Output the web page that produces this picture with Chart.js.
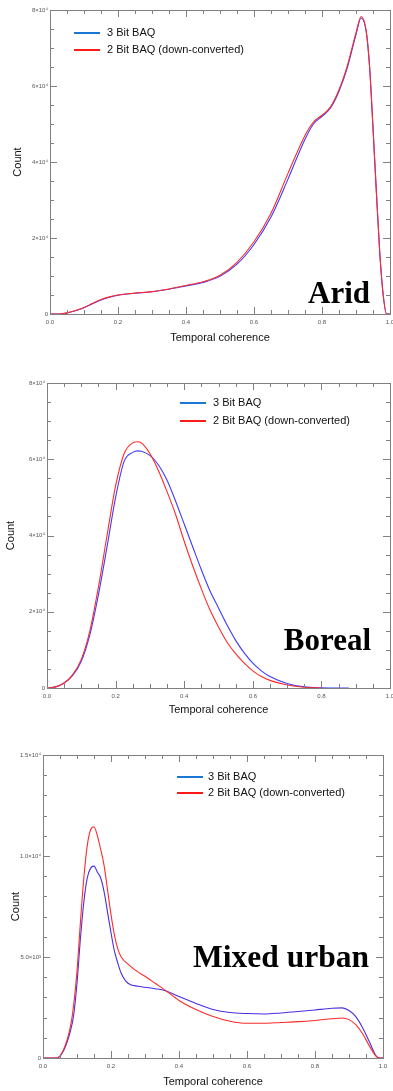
<!DOCTYPE html>
<html><head><meta charset="utf-8">
<script src="https://cdn.jsdelivr.net/npm/chart.js@4.4.1/dist/chart.umd.min.js"></script>
<style>
html,body{margin:0;padding:0;background:#fff;width:393px;height:1091px;overflow:hidden}
canvas{position:absolute;left:0}
</style></head><body>
<canvas id="c1" width="393" height="348" style="top:0;width:393px;height:348px"></canvas>
<canvas id="c2" width="393" height="350" style="top:370px;width:393px;height:350px"></canvas>
<canvas id="c3" width="393" height="351" style="top:740px;width:393px;height:351px"></canvas>
<script>
// ---------------- DATA ----------------
const seriesNames = ['3 Bit BAQ', '2 Bit BAQ (down-converted)'];
const xTitle = 'Temporal coherence';
const yTitle = 'Count';
const panelTags = ['Arid', 'Boreal', 'Mixed urban'];

const xTickVals = [0, 0.2, 0.4, 0.6, 0.8, 1.0];
const xTickLabels = ['0.0', '0.2', '0.4', '0.6', '0.8', '1.0'];

// Arid
const aridX    = [0, 0.03, 0.05, 0.075, 0.1, 0.125, 0.15, 0.175, 0.2, 0.25, 0.3, 0.35, 0.4, 0.45, 0.5, 0.55, 0.6, 0.65, 0.7, 0.75, 0.775, 0.8, 0.825, 0.85, 0.875, 0.9, 0.915, 0.93, 0.94, 0.95, 0.96, 0.97, 0.98, 0.99, 1.0];
const aridBlue = [0, 0, 250, 850, 1650, 2700, 3700, 4400, 4950, 5450, 5850, 6500, 7400, 8300, 9900, 13100, 18300, 25500, 35500, 46000, 50000, 52000, 54200, 58600, 65000, 73500, 77900, 74300, 65000, 49000, 32000, 16000, 5000, 0, 0];
const aridRed  = [0, 0, 300, 900, 1700, 2800, 3800, 4500, 5000, 5500, 5900, 6600, 7500, 8500, 10200, 13600, 19000, 26500, 37000, 47000, 50500, 52300, 54500, 59000, 65500, 74000, 78300, 74500, 65000, 49000, 32000, 16000, 5000, 0, 0];
const aridYTickVals = [0, 20000, 40000, 60000, 80000];
const aridYTickLabels = ['0', '2\u00d710\u2074', '4\u00d710\u2074', '6\u00d710\u2074', '8\u00d710\u2074'];

// Boreal
const borealX    = [0, 0.025, 0.05, 0.075, 0.1, 0.125, 0.15, 0.175, 0.2, 0.225, 0.25, 0.265, 0.275, 0.3, 0.325, 0.35, 0.375, 0.4, 0.425, 0.45, 0.475, 0.5, 0.525, 0.55, 0.575, 0.6, 0.625, 0.65, 0.7, 0.75, 0.8, 0.85, 0.88];
const borealBlue = [0, 300, 1300, 3300, 7000, 14000, 24500, 37000, 50000, 59500, 61800, 62200, 62100, 61000, 58500, 54500, 49000, 43000, 37000, 31000, 25500, 21000, 16500, 12500, 9200, 6500, 4500, 3000, 1200, 300, 50, 0, 0];
const borealRed  = [0, 300, 1300, 3500, 7500, 15000, 26500, 40000, 53000, 61500, 64300, 64600, 64300, 61500, 57000, 51500, 45500, 38500, 32000, 26000, 20500, 16000, 12000, 9000, 6500, 4500, 3000, 2000, 800, 200, 0, null, null];
const borealYTickVals = [0, 20000, 40000, 60000, 80000];
const borealYTickLabels = ['0', '2\u00d710\u2074', '4\u00d710\u2074', '6\u00d710\u2074', '8\u00d710\u2074'];

// Mixed urban
const urbanX    = [0, 0.04, 0.06, 0.08, 0.09, 0.1, 0.11, 0.12, 0.13, 0.14, 0.15, 0.16, 0.17, 0.18, 0.19, 0.2, 0.21, 0.22, 0.23, 0.25, 0.28, 0.3, 0.33, 0.36, 0.4, 0.45, 0.5, 0.55, 0.6, 0.65, 0.7, 0.75, 0.8, 0.85, 0.88, 0.9, 0.92, 0.94, 0.96, 0.98, 0.99, 1.0];
const urbanBlue = [0, 0, 350, 1300, 2100, 3700, 5900, 7700, 8900, 9400, 9500, 9200, 8900, 8200, 7200, 6200, 5300, 4700, 4200, 3700, 3550, 3500, 3430, 3330, 3050, 2700, 2400, 2250, 2200, 2180, 2230, 2300, 2380, 2460, 2480, 2350, 2050, 1500, 800, 100, 0, 0];
const urbanRed  = [0, 0, 400, 1500, 2600, 4300, 6700, 8900, 10500, 11300, 11450, 11000, 10300, 9500, 8300, 7100, 6100, 5400, 5000, 4650, 4250, 4050, 3700, 3350, 2850, 2400, 2050, 1820, 1720, 1720, 1760, 1800, 1860, 1940, 1980, 1900, 1650, 1200, 600, 80, 0, 0];
const urbanYTickVals = [0, 5000, 10000, 15000];
const urbanYTickLabels = ['0', '5.0\u00d710\u00b3', '1.0\u00d710\u2074', '1.5\u00d710\u2074'];

// ---------------- RENDER ----------------
const FONT = "'Liberation Sans', Arial, sans-serif";
const SERIF = "'Liberation Serif', 'Times New Roman', serif";
const legendColors = ['#1a78d4', '#ff1a1a'];

function toXY(xs, ys) { return xs.map((x, i) => ({x: x, y: ys[i]})); }

const framePlugin = {
  id: 'frame',
  afterDraw(chart, args, o) {
    const {ctx, chartArea: {left, right, top, bottom}, scales: {x, y}} = chart;
    ctx.save();
    ctx.strokeStyle = '#808080';
    ctx.lineWidth = 1;
    ctx.strokeRect(Math.round(left) + 0.5, Math.round(top) + 0.5, Math.round(right - left), Math.round(bottom - top));
    ctx.beginPath();
    const nx = Math.round((x.max - x.min) / o.xMinor);
    for (let i = 0; i <= nx; i++) {
      const v = x.min + i * o.xMinor;
      const r = v / o.xMajor;
      const len = Math.abs(r - Math.round(r)) < 1e-6 ? 7 : 4;
      const px = Math.round(x.getPixelForValue(v)) + 0.5;
      ctx.moveTo(px, bottom); ctx.lineTo(px, bottom - len);
      ctx.moveTo(px, top); ctx.lineTo(px, top + len);
    }
    const ny = Math.round((y.max - y.min) / o.yMinor);
    for (let i = 0; i <= ny; i++) {
      const v = y.min + i * o.yMinor;
      const r = v / o.yMajor;
      const len = Math.abs(r - Math.round(r)) < 1e-6 ? 7 : 4;
      const py = Math.round(y.getPixelForValue(v)) + 0.5;
      ctx.moveTo(left, py); ctx.lineTo(left + len, py);
      ctx.moveTo(right, py); ctx.lineTo(right - len, py);
    }
    ctx.stroke();
    // legend
    ctx.font = '11px ' + FONT;
    ctx.textBaseline = 'middle';
    ctx.textAlign = 'left';
    chart.data.datasets.forEach((ds, i) => {
      const ly = o.legY + i * o.legGap;
      ctx.strokeStyle = legendColors[i];
      ctx.lineWidth = 2;
      ctx.beginPath(); ctx.moveTo(o.legX, ly); ctx.lineTo(o.legX + 26, ly); ctx.stroke();
      ctx.fillStyle = '#111';
      ctx.fillText(ds.label, o.legX + o.legText, ly);
    });
    // panel tag
    ctx.font = 'bold ' + o.tagSize + 'px ' + SERIF;
    ctx.textAlign = 'right';
    ctx.textBaseline = 'alphabetic';
    ctx.fillStyle = '#000';
    ctx.fillText(o.tag, o.tagX, o.tagY);
    ctx.restore();
  }
};

function makeChart(id, c) {
  return new Chart(document.getElementById(id), {
    type: 'line',
    data: {
      datasets: [
        {label: seriesNames[0], data: toXY(c.x, c.blue), borderColor: c.blueColor, order: 1},
        {label: seriesNames[1], data: toXY(c.x, c.red), borderColor: '#ff2a2a', order: 0}
      ]
    },
    options: {
      responsive: false, animation: false, events: [],
      layout: {padding: {left: 0, right: c.padRight, top: c.padTop, bottom: 0}},
      elements: {point: {radius: 0}, line: {borderWidth: 1.1, cubicInterpolationMode: 'monotone', fill: false}},
      plugins: {
        legend: {display: false}, tooltip: {enabled: false},
        frame: {xMinor: 0.05, xMajor: 0.2, yMinor: c.yMinor, yMajor: c.yMajor,
                legX: c.legX, legY: c.legY, legGap: c.legGap, legText: c.legText,
                tag: c.tag, tagX: c.tagX, tagY: c.tagY, tagSize: c.tagSize}
      },
      scales: {
        x: {
          type: 'linear', min: 0, max: 1,
          afterBuildTicks(s) { s.ticks = xTickVals.map(v => ({value: v})); },
          afterFit(s) { s.height = c.xH; s.paddingLeft = 0; s.paddingRight = 0; },
          ticks: {callback: (v, i) => xTickLabels[i], font: {size: 6, family: FONT}, color: '#555', padding: 5, maxRotation: 0, autoSkip: false},
          grid: {display: false, drawTicks: false}, border: {display: false},
          title: {display: true, text: xTitle, font: {size: 11, family: FONT}, color: '#111', padding: {top: 0, bottom: c.xTitlePad}}
        },
        y: {
          type: 'linear', min: 0, max: c.ymax,
          afterBuildTicks(s) { s.ticks = c.yTickVals.map(v => ({value: v})); },
          afterFit(s) { s.width = c.yW; s.paddingTop = 0; s.paddingBottom = 0; },
          ticks: {callback: (v, i) => c.yTickLabels[i], font: {size: 6, family: FONT}, color: '#555', padding: 2, autoSkip: false},
          grid: {display: false, drawTicks: false}, border: {display: false},
          title: {display: true, text: yTitle, font: {size: 11, family: FONT}, color: '#111', padding: {top: c.yTitlePad, bottom: 0}}
        }
      }
    },
    plugins: [framePlugin]
  });
}

makeChart('c1', {
  x: aridX, blue: aridBlue, red: aridRed, blueColor: '#3c3cff',
  ymax: 80000, yTickVals: aridYTickVals, yTickLabels: aridYTickLabels, yMinor: 5000, yMajor: 20000,
  padTop: 10, padRight: 3, yW: 50, xH: 34, xTitlePad: 3, yTitlePad: 11,
  legX: 74, legY: 33, legGap: 17, legText: 33,
  tag: panelTags[0], tagX: 370, tagY: 303, tagSize: 31
});
makeChart('c2', {
  x: borealX, blue: borealBlue, red: borealRed, blueColor: '#3c3cff',
  ymax: 80000, yTickVals: borealYTickVals, yTickLabels: borealYTickLabels, yMinor: 5000, yMajor: 20000,
  padTop: 13, padRight: 3, yW: 47, xH: 32, xTitlePad: 3, yTitlePad: 4,
  legX: 180, legY: 33, legGap: 18, legText: 33,
  tag: panelTags[1], tagX: 371, tagY: 280, tagSize: 31
});
makeChart('c3', {
  x: urbanX, blue: urbanBlue, red: urbanRed, blueColor: '#4a2ee0',
  ymax: 15000, yTickVals: urbanYTickVals, yTickLabels: urbanYTickLabels, yMinor: 1000, yMajor: 5000,
  padTop: 15, padRight: 10, yW: 43, xH: 33, xTitlePad: 2, yTitlePad: 9,
  legX: 177, legY: 37, legGap: 16, legText: 31,
  tag: panelTags[2], tagX: 369, tagY: 227, tagSize: 31.5
});
</script>
</body></html>
